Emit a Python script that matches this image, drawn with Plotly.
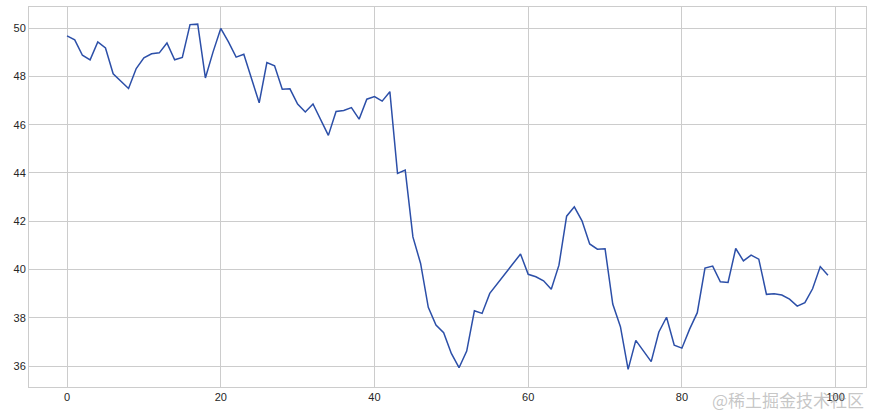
import plotly.graph_objects as go

x_index = list(range(100))
values = [
    49.68, 49.52, 48.88, 48.69, 49.43, 49.18, 48.11, 47.80, 47.50, 48.33,
    48.77, 48.94, 48.98, 49.39, 48.69, 48.79, 50.15, 50.17, 47.94, 49.02,
    49.99, 49.43, 48.80, 48.92, 47.91, 46.91, 48.58, 48.44, 47.47, 47.49,
    46.86, 46.53, 46.86, 46.22, 45.56, 46.55, 46.59, 46.71, 46.23, 47.06,
    47.17, 46.98, 47.37, 43.98, 44.12, 41.35, 40.25, 38.43, 37.70, 37.38,
    36.52, 35.93, 36.62, 38.29, 38.18, 39.01, 39.42, 39.84, 40.25, 40.64,
    39.80, 39.70, 39.53, 39.18, 40.18, 42.21, 42.60, 42.02, 41.06, 40.84,
    40.86, 38.57, 37.63, 35.86, 37.06, 36.62, 36.18, 37.41, 38.02, 36.86,
    36.74, 37.53, 38.21, 40.06, 40.14, 39.49, 39.46, 40.87, 40.36, 40.60,
    40.43, 38.97, 38.99, 38.94, 38.77, 38.48, 38.63, 39.20, 40.12, 39.76,
]
x_ticks = [0, 20, 40, 60, 80, 100]
y_ticks = [36, 38, 40, 42, 44, 46, 48, 50]
watermark = "@稀土掘金技术社区"

fig = go.Figure()
fig.add_trace(go.Scatter(
    x=x_index, y=values, mode="lines",
    line=dict(color="#2c4fa8", width=1.5),
    hoverinfo="skip", showlegend=False,
))

axis_common = dict(
    showgrid=True, gridcolor="#cccccc", gridwidth=1,
    showline=True, linecolor="#cccccc", linewidth=1, mirror=True,
    zeroline=False, ticks="", automargin=False,
    tickfont=dict(family="Liberation Sans, Arial, sans-serif", size=11, color="#262626"),
)

fig.update_layout(
    width=873, height=414,
    margin=dict(l=29, r=7, t=7, b=27),
    paper_bgcolor="white", plot_bgcolor="white",
    xaxis=dict(range=[-4.95, 103.95], tickvals=x_ticks, ticktext=[str(t) for t in x_ticks], **axis_common),
    yaxis=dict(range=[35.13, 50.88], tickvals=y_ticks, ticktext=[str(t) for t in y_ticks], **axis_common),
    annotations=[dict(
        text=watermark, xref="paper", yref="paper", x=1.0, y=-0.032,
        xanchor="right", yanchor="middle", showarrow=False,
        font=dict(family="Noto Sans CJK SC", size=17, color="rgba(150,150,150,0.55)"),
    )],
)

fig.write_html(
    "out.html",
    config={"displayModeBar": False},
    post_script="document.body.style.margin='0';document.body.style.padding='0';",
)
